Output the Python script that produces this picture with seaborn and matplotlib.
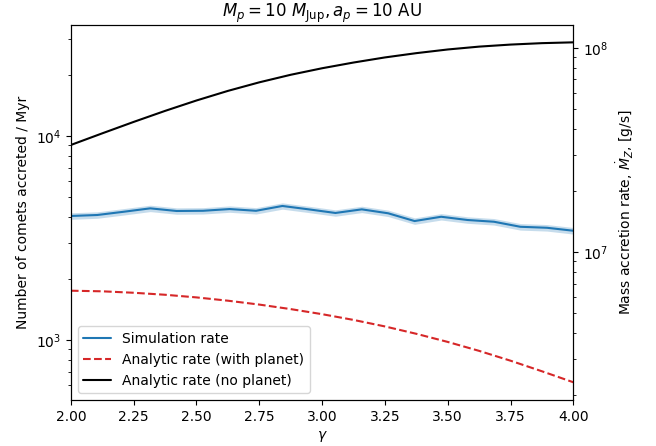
import numpy as np
import matplotlib
matplotlib.use("Agg")
import matplotlib.pyplot as plt
import seaborn as sns

# simulation: accretion rate per gamma bin
gamma_sim = [2.000, 2.105, 2.211, 2.316, 2.421, 2.526, 2.632, 2.737, 2.842, 2.947,
             3.053, 3.158, 3.263, 3.368, 3.474, 3.579, 3.684, 3.789, 3.895, 4.000]
sim_rate = [4055, 4100, 4254, 4420, 4290, 4300, 4385, 4300, 4540, 4370,
            4195, 4370, 4180, 3830, 4020, 3875, 3800, 3590, 3550, 3433]
sim_err = [150, 150, 155, 160, 155, 155, 158, 155, 162, 157,
           152, 157, 152, 140, 146, 142, 140, 133, 131, 128]

# analytic curves
gamma_an = [2.000, 2.125, 2.250, 2.375, 2.500, 2.625, 2.750, 2.875, 3.000,
            3.125, 3.250, 3.375, 3.500, 3.625, 3.750, 3.875, 4.000]
rate_planet = [1745, 1733, 1705, 1667, 1618, 1559, 1492, 1418, 1339,
               1255, 1166, 1073, 979, 885, 792, 703, 621]
rate_noplanet = [9036, 10304, 11722, 13274, 14928, 16634, 18323, 19953, 21478,
                 22909, 24266, 25468, 26546, 27416, 28054, 28510, 28774]

mass_per_comet = 3700.0   # converts comets/Myr to g/s for the right axis

sns.set_style("ticks", {"axes.edgecolor": "black", "text.color": "black",
                        "xtick.color": "black", "ytick.color": "black",
                        "axes.labelcolor": "black"})
plt.rcParams["font.family"] = ["DejaVu Sans"]

fig = plt.figure(figsize=(6.56, 4.46), dpi=100)
ax = fig.add_axes([0.108, 0.103, 0.766, 0.841])

sns.lineplot(x=gamma_sim, y=sim_rate, ax=ax, color="#1f77b4", lw=1.5,
             label="Simulation rate")
lo = np.array(sim_rate) - np.array(sim_err)
hi = np.array(sim_rate) + np.array(sim_err)
ax.fill_between(gamma_sim, lo, hi, color="#1f77b4", alpha=0.25, lw=0)
sns.lineplot(x=gamma_an, y=rate_planet, ax=ax, color="#d62728", lw=1.5,
             linestyle="--", label="Analytic rate (with planet)")
sns.lineplot(x=gamma_an, y=rate_noplanet, ax=ax, color="black", lw=1.5,
             label="Analytic rate (no planet)")

ax.set_yscale("log")
ax.set_xlim(2, 4)
ax.set_ylim(508, 35000)
ax.set_xticks(np.arange(2, 4.01, 0.25))
ax.set_xticklabels([f"{t:.2f}" for t in np.arange(2, 4.01, 0.25)])
ax.set_xlabel(r"$\gamma$")
ax.set_ylabel("Number of comets accreted / Myr")
ax.set_title(r"$M_p = 10\ M_{\rm Jup}, a_p = 10$ AU", fontsize=12)
ax.legend(loc="lower left")

ax2 = ax.twinx()
ax2.set_yscale("log")
ax2.set_ylim(np.array(ax.get_ylim()) * mass_per_comet)
ax2.set_ylabel(r"Mass accretion rate, $\dot{M}_Z$, [g/s]")

fig.savefig("out.png", dpi=100)
